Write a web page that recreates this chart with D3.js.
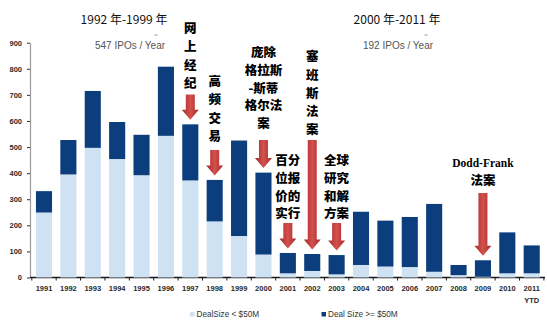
<!DOCTYPE html>
<html>
<head>
<meta charset="utf-8">
<script src="https://cdn.jsdelivr.net/npm/d3@7"></script>
<style>
  html, body { margin: 0; padding: 0; background: #ffffff; }
  svg { display: block; }
</style>
</head>
<body>
<svg id="chart" width="547" height="323"></svg>
<script>
// ---------- data ----------
const years = ["1991","1992","1993","1994","1995","1996","1997","1998","1999","2000",
               "2001","2002","2003","2004","2005","2006","2007","2008","2009","2010","2011"];
const tickLabels = ["1991","1992","1993","1994","1995","1996","1997","1998","1999","2000",
               "2001","2002","2003","2004","2005","2006","2007","2008","2009","2010","2011|YTD"];
const smallDeals = [249,395,497,454,392,543,372,215,159,88,16,25,12,48,42,40,22,9,3,16,16];
const largeDeals = [82,132,218,142,155,265,215,159,366,314,78,65,74,204,176,192,260,39,63,157,107];
const yTicks = [0,100,200,300,400,500,600,700,800,900];
const seriesNames = ["DealSize < $50M", "Deal Size >= $50M"];

const periodTitles = ["1992 年-1999 年", "2000 年-2011 年"];
const periodSubtitles = ["547 IPOs / Year", "192 IPOs / Year"];

const annotationYears = ["1997","1998","2000","2001","2002","2003","2009"];
const annotationTexts = [
  ["网","上","经","纪"],
  ["高","频","交","易"],
  ["庞除","格拉斯","-斯蒂","格尔法","案"],
  ["百分","位报","价的","实行"],
  ["塞","班","斯","法","案"],
  ["全球","研究","和解","方案"],
  ["Dodd-Frank","法案"]
];
// anchors in value units (first text line centre, arrow start)
const annotationTextAt = [954, 751, 862, 448, 846, 448, 440];
const annotationArrowFrom = [701, 489, 527, 209, 527, 209, 324];

// ---------- layout ----------
const svg = d3.select("#chart");
const C = { light: "#cfe2f4", dark: "#0c3e7e", text: "#2a2a2a" };

const x = d3.scaleBand().domain(years).range([31.8, 543.9]).paddingInner(0.34).paddingOuter(0.17);
const y = d3.scaleLinear().domain([0, 900]).range([277.5, 42.7]);

// gradient for arrows
const defs = svg.append("defs");
const g = defs.append("linearGradient").attr("id", "arrowGrad").attr("x1", 0).attr("x2", 1).attr("y1", 0).attr("y2", 0);
g.append("stop").attr("offset", "0%").attr("stop-color", "#a3292a");
g.append("stop").attr("offset", "50%").attr("stop-color", "#d4514c");
g.append("stop").attr("offset", "100%").attr("stop-color", "#a3292a");

// y axis
const yAxis = svg.append("g").attr("transform", "translate(30,0)")
  .call(d3.axisLeft(y).tickValues(yTicks).tickSize(3).tickPadding(5).tickSizeOuter(0));
yAxis.select(".domain").attr("stroke", "#9a9a9a").attr("stroke-width", 1.2);
yAxis.selectAll(".tick line").attr("stroke", "#333");
yAxis.selectAll("text").attr("font-family", "Liberation Sans, Arial, sans-serif")
  .attr("font-size", 7.5).attr("font-weight", "bold").attr("fill", C.text);

// x axis baseline
svg.append("line").attr("x1", 30).attr("x2", 545).attr("y1", y(0)).attr("y2", y(0))
  .attr("stroke", "#1a1a1a").attr("stroke-width", 1.6);
// boundary ticks
const step = x.step();
const bounds = years.map(d => x(d) - step * x.paddingInner() / 2).concat([x(years[years.length-1]) + x.bandwidth() + step * x.paddingInner() / 2]);
svg.append("g").selectAll("line").data(bounds).join("line")
  .attr("x1", d => d).attr("x2", d => d).attr("y1", y(0)).attr("y2", y(0) + 3)
  .attr("stroke", "#1a1a1a").attr("stroke-width", 1);

// bars
const stackData = years.map((yr, i) => ({ year: yr, small: smallDeals[i], large: largeDeals[i] }));
const stack = d3.stack().keys(["small", "large"])(stackData);
const colors = [C.light, C.dark];
svg.append("g").selectAll("g").data(stack).join("g")
  .attr("fill", (d, i) => colors[i])
  .selectAll("rect").data(d => d).join("rect")
  .attr("x", d => x(d.data.year))
  .attr("width", x.bandwidth())
  .attr("y", d => y(d[1]))
  .attr("height", d => Math.max(0, y(d[0]) - y(d[1])));

// x axis labels
const xAxis = svg.append("g").attr("transform", `translate(0,${y(0)})`)
  .call(d3.axisBottom(x).tickSize(0).tickPadding(8.5).tickFormat((d, i) => tickLabels[i].split("|")[0]));
xAxis.select(".domain").remove();
xAxis.selectAll("text").attr("font-family", "Liberation Sans, Arial, sans-serif")
  .attr("font-size", 7.5).attr("font-weight", "bold").attr("fill", C.text);
xAxis.selectAll(".tick").each(function(d, i) {
  const parts = tickLabels[i].split("|");
  if (parts.length > 1) {
    d3.select(this).append("text")
      .attr("y", 8.5 + 12).attr("dy", "0.71em").attr("text-anchor", "middle")
      .attr("font-family", "Liberation Sans, Arial, sans-serif")
      .attr("font-size", 7.5).attr("font-weight", "bold").attr("fill", C.text)
      .text(parts[1]);
  }
});

// period titles
const periodCenters = [124, 397];
const dashX = [156, 426];
periodTitles.forEach((t, i) => {
  svg.append("text").attr("x", periodCenters[i]).attr("y", 20).attr("dy", "0.35em")
    .attr("text-anchor", "middle").attr("font-family", "Noto Sans CJK SC, sans-serif")
    .attr("font-size", 12).attr("fill", "#111").text(t);
  svg.append("line").attr("x1", dashX[i] - 1.5).attr("x2", dashX[i] + 1.5).attr("y1", 35).attr("y2", 35)
    .attr("stroke", "#999").attr("stroke-width", 1);
  svg.append("text").attr("x", periodCenters[i] + (i === 0 ? 6 : 1)).attr("y", 45).attr("dy", "0.35em")
    .attr("text-anchor", "middle").attr("font-family", "Liberation Sans, Arial, sans-serif")
    .attr("font-size", 10).attr("fill", "#555").text(periodSubtitles[i]);
});

// annotations
annotationYears.forEach((yr, i) => {
  const cx = x(yr) + x.bandwidth() / 2;
  const lines = annotationTexts[i];
  const single = lines.every(l => l.length === 1);
  const lh = single ? 18.3 : 17.7;
  const y0 = y(annotationTextAt[i]);
  lines.forEach((l, j) => {
    const latin = /^[A-Za-z\-]+$/.test(l) && l.length > 2;
    svg.append("text").attr("x", cx).attr("y", y0 + j * lh).attr("dy", "0.36em")
      .attr("text-anchor", "middle")
      .attr("font-family", latin ? "Liberation Serif, DejaVu Serif, serif" : "Noto Sans CJK SC, sans-serif")
      .attr("font-weight", latin ? "bold" : 900)
      .attr("font-size", latin ? 11.5 : 12.5)
      .attr("fill", "#000").text(l);
  });
  // arrow
  const top = y(annotationArrowFrom[i]);
  const tip = y(smallDeals[years.indexOf(yr)] + largeDeals[years.indexOf(yr)]) - 4.5;
  const sw = 4.5, hw = 8.5, hl = 10;
  const path = `M${cx - sw},${top} L${cx + sw},${top} L${cx + sw},${tip - hl} L${cx + hw},${tip - hl} L${cx},${tip} L${cx - hw},${tip - hl} L${cx - sw},${tip - hl} Z`;
  svg.append("path").attr("d", path).attr("fill", "url(#arrowGrad)");
});

// legend
const legendX = [190, 321.5];
seriesNames.forEach((n, i) => {
  svg.append("rect").attr("x", legendX[i]).attr("y", 312).attr("width", 4.5).attr("height", 4.5).attr("fill", colors[i]);
  svg.append("text").attr("x", legendX[i] + 6.5).attr("y", 314.5).attr("dy", "0.35em")
    .attr("font-family", "Liberation Sans, Arial, sans-serif").attr("font-size", 8.2)
    .attr("fill", "#333").text(n);
});
</script>
</body>
</html>
